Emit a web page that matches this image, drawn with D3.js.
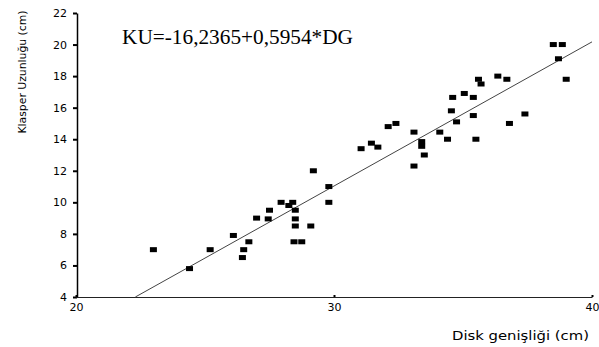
<!DOCTYPE html>
<html lang="tr">
  <head>
    <meta charset="utf-8">
    <title>Klasper - Disk</title>
    <script src="https://d3js.org/d3.v7.min.js"></script>
    <style>
      body { margin: 0; background: #fff; }
    </style>
  </head>
<body>

<script>
// disk width (cm) and clasper length (cm)
var diskWidth = [23.0, 24.4, 25.2, 26.1, 26.5, 26.45, 26.7, 27.0, 27.45, 27.5,
    27.95, 28.25, 28.4, 28.5, 28.5, 28.5, 28.45, 28.75, 29.1, 29.2,
    29.8, 29.8, 31.05, 31.45, 31.7, 32.1, 32.4, 33.1, 33.1, 33.4,
    33.4, 33.5, 34.1, 34.4, 34.55, 34.6, 34.75, 35.05, 35.4, 35.4,
    35.5, 35.6, 35.7, 36.35, 36.7, 36.8, 37.4, 38.5, 38.85, 38.7, 39.0];
var clasperLength = [7.0, 5.8, 7.0, 7.9, 7.0, 6.5, 7.5, 9.0, 8.95, 9.5,
    10.0, 9.8, 10.0, 9.5, 8.95, 8.5, 7.5, 7.5, 8.5, 12.0,
    11.0, 10.0, 13.4, 13.75, 13.5, 14.8, 15.0, 14.45, 12.3, 13.85,
    13.55, 13.0, 14.45, 14.0, 15.8, 16.65, 15.1, 16.9, 16.65, 15.5,
    14.0, 17.8, 17.5, 18.0, 17.8, 15.0, 15.6, 20.0, 20.0, 19.1, 17.8];

var fitLine = [[22.3, 4], [40, 20.17]];   // drawn regression line ends
var xTicks = [20, 30, 40];
var yTicks = [4, 6, 8, 10, 12, 14, 16, 18, 20, 22];
var equation = "KU=-16,2365+0,5954*DG";

var width = 599, height = 347;

var svg = d3.select("body")
    .append("svg")
    .attr("width", width)
    .attr("height", height);

var x = d3.scaleLinear().domain([20, 40]).range([76, 592]);
var y = d3.scaleLinear().domain([4, 22]).range([297, 13]);

// y axis
var yAxis = svg.append("g")
    .attr("transform", "translate(77,0)")
    .call(d3.axisLeft(y).tickValues(yTicks).tickSize(4).tickPadding(6).tickSizeOuter(0));
yAxis.select(".domain").attr("stroke", "#000").attr("stroke-width", 1.5);
yAxis.selectAll(".tick line").attr("stroke-width", 2);
yAxis.selectAll("text")
    .attr("font-family", "DejaVu Sans")
    .attr("font-size", 11)
    .attr("fill", "#000");

// x axis
var xAxis = svg.append("g")
    .attr("transform", "translate(0,297)")
    .call(d3.axisBottom(x).tickValues(xTicks).tickSize(2).tickPadding(4).tickSizeOuter(0));
xAxis.select(".domain").attr("stroke", "#222").attr("stroke-width", 1.2);
xAxis.selectAll(".tick line").attr("stroke-width", 2).attr("transform", "translate(0,-2)");
xAxis.selectAll("text")
    .attr("font-family", "DejaVu Sans")
    .attr("font-size", 11)
    .attr("fill", "#000");

// regression line
svg.append("line")
    .attr("x1", x(fitLine[0][0]))
    .attr("y1", y(fitLine[0][1]))
    .attr("x2", x(fitLine[1][0]))
    .attr("y2", y(fitLine[1][1]))
    .attr("stroke", "#444")
    .attr("stroke-width", 1);

// points
svg.selectAll(".pt")
    .data(d3.zip(diskWidth, clasperLength))
    .join("rect")
    .attr("class", "pt")
    .attr("x", d => x(d[0]) - 3.5)
    .attr("y", d => y(d[1]) - 2.5)
    .attr("width", 7)
    .attr("height", 5)
    .attr("fill", "#000");

// equation
svg.append("text")
    .attr("x", 122)
    .attr("y", 44)
    .attr("font-family", "Liberation Serif")
    .attr("font-size", 20)
    .attr("textLength", 231)
    .attr("lengthAdjust", "spacingAndGlyphs")
    .text(equation);

// axis titles
svg.append("text")
    .attr("transform", "translate(26,72) rotate(-90)")
    .attr("text-anchor", "middle")
    .attr("font-family", "DejaVu Sans")
    .attr("font-size", 11)
    .attr("textLength", 123)
    .attr("lengthAdjust", "spacingAndGlyphs")
    .text("Klasper Uzunluğu (cm)");

svg.append("text")
    .attr("x", 452)
    .attr("y", 340)
    .attr("font-family", "DejaVu Sans")
    .attr("font-size", 12)
    .attr("textLength", 137)
    .attr("lengthAdjust", "spacingAndGlyphs")
    .text("Disk genişliği (cm)");
</script>
</body>
</html>
